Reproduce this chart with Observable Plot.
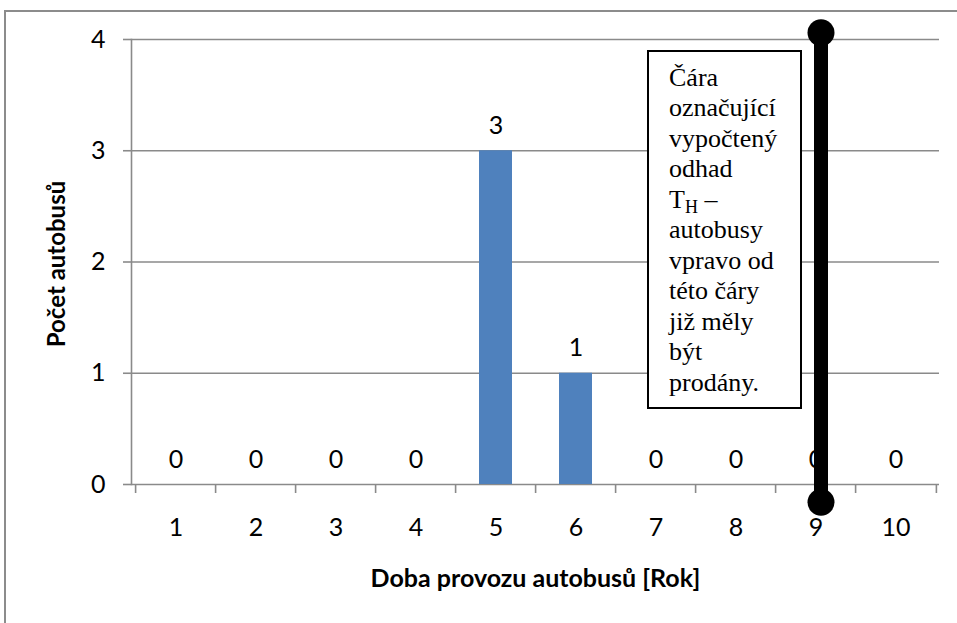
<!DOCTYPE html>
<html>
<head>
<meta charset="utf-8">
<script src="https://cdn.jsdelivr.net/npm/d3@7"></script>
<script src="https://cdn.jsdelivr.net/npm/@observablehq/plot@0.6"></script>
<style>
  html, body { margin: 0; padding: 0; background: #fff; overflow: hidden; }
  #wrap { position: relative; width: 957px; height: 623px; overflow: hidden; }
  #border { position: absolute; left: 4px; top: 10px; width: 2000px; height: 2000px;
            border-left: 2px solid #8c8c8c; border-top: 2px solid #8c8c8c; }
  #chart { position: absolute; left: 0; top: 0; }
  #note { position: absolute; left: 647px; top: 50px; width: 151px; height: 355px;
          border: 2px solid #000; background: #fff; box-sizing: content-box;
          font-family: "Liberation Serif", "Times New Roman", serif; font-size: 26px;
          line-height: 30.5px; color: #000; padding: 0; }
  #note .inner { position: absolute; left: 20px; top: 10.5px; }
  #note sub { font-size: 18px; vertical-align: -5px; line-height: 0; }
</style>
</head>
<body>
<div id="wrap">
  <div id="border"></div>
  <div id="chart"></div>
  <div id="note"><div class="inner">Čára<br>označující<br>vypočtený<br>odhad<br>T<sub>H</sub> –<br>autobusy<br>vpravo od<br>této čáry<br>již měly<br>být<br>prodány.</div></div>
</div>
<script>
// ---- data ----
const years = ["1", "2", "3", "4", "5", "6", "7", "8", "9", "10"];
const counts = [0, 0, 0, 0, 3, 1, 0, 0, 0, 0];
const yTicks = [0, 1, 2, 3, 4];
const thresholdYear = "9";
const thresholdTop = 4.06;
const thresholdBottom = -0.16;
const xTitle = "Doba provozu autobusů [Rok]";
const yTitle = "Počet autobusů";

const data = years.map((y, i) => ({year: y, count: counts[i]}));
const threshold = [{year: thresholdYear, y1: thresholdTop, y2: thresholdBottom}];
const ends = [{year: thresholdYear, y: thresholdTop}, {year: thresholdYear, y: thresholdBottom}];

const W = 957, H = 623;
const mL = 131, mR = 18, mT = 39, mB = 139;
const step = (W - mL - mR) / years.length;
const gray = "#8a8a8a";
const blue = "#4f81bd";

const chart = Plot.plot({
  width: W,
  height: H,
  marginLeft: mL,
  marginRight: mR,
  marginTop: mT,
  marginBottom: mB,
  style: {fontFamily: "Lato, 'Open Sans', sans-serif", fontSize: "25px", background: "transparent", overflow: "visible", color: "#000"},
  x: {type: "band", domain: years, paddingInner: 0.59, paddingOuter: 0.295, label: null},
  y: {domain: [0, 4], ticks: yTicks, label: null},
  marks: [
    Plot.gridY(yTicks, {stroke: gray, strokeOpacity: 1, strokeWidth: 1.6}),
    Plot.frame({anchor: "left", stroke: gray, strokeWidth: 1.6}),
    Plot.axisY(yTicks, {tickSize: 8, tickPadding: 18, stroke: gray, strokeWidth: 1.6, fill: "#000", label: null, tickFormat: d => String(d)}),
    Plot.axisX({tickSize: 9, text: null, dx: -step / 2, stroke: gray, strokeWidth: 1.6, label: null}),
    Plot.axisX([years[years.length - 1]], {tickSize: 9, text: null, dx: step / 2, stroke: gray, strokeWidth: 1.6, label: null}),
    Plot.axisX({tickSize: 0, tickPadding: 43, lineAnchor: "middle", fill: "#000", label: null}),
    Plot.barY(data, {x: "year", y: "count", fill: blue}),
    Plot.text(data, {x: "year", y: "count", text: d => String(d.count), dy: -25, fill: "#000"}),
    Plot.text([xTitle], {frameAnchor: "bottom", dy: 94, textAnchor: "middle", lineAnchor: "middle", fontWeight: "bold", fill: "#000", fontSize: 25}),
    Plot.text([yTitle], {frameAnchor: "left", dx: -74, dy: 2, textAnchor: "middle", lineAnchor: "middle", rotate: -90, fontWeight: "bold", fill: "#000", fontSize: 24}),
    Plot.ruleX(threshold, {x: "year", y1: "y1", y2: "y2", dx: 5, stroke: "#000", strokeWidth: 14}),
    Plot.dot(ends, {x: "year", y: "y", dx: 5, r: 13.5, fill: "#000", stroke: null})
  ]
});
document.getElementById("chart").appendChild(chart);
</script>
</body>
</html>
